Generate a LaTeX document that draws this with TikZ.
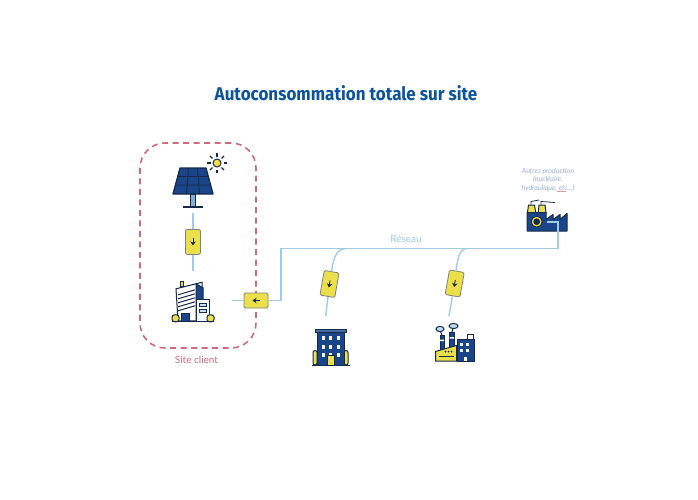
\documentclass[tikz,border=0pt]{standalone}
\usepackage{fontspec}
\setmainfont{Lato}
\newfontfamily\titlefont[FakeStretch=0.92]{Fira Sans}
\usetikzlibrary{arrows.meta, positioning}
\definecolor{navy}{HTML}{1A4689}
\definecolor{ink}{HTML}{16294A}
\definecolor{lemon}{HTML}{ECE04A}
\definecolor{wire}{HTML}{A0CBE6}
\definecolor{rose}{HTML}{CE6A7C}
\definecolor{heading}{HTML}{0B539E}
\tikzstyle{gate} = [rectangle, rounded corners=1.5pt, minimum width=15pt, minimum height=25pt, inner sep=0pt, draw=black!50, line width=0.8pt, fill=lemon]
\tikzstyle{wgate} = [gate, minimum width=24pt, minimum height=15pt]
\tikzstyle{iconbox} = [rectangle, inner sep=0pt, outer sep=0pt]
\tikzstyle{link} = [wire, line width=1.4pt]
\tikzstyle{tip} = [ink, line width=0.9pt, -{Stealth[length=4pt,width=5.5pt]}]
\tikzstyle{line} = [ink, line width=1pt]
\tikzset{
  solar/.pic={
    \draw [line, fill=wire!80!navy] (-3,7) rectangle (2,19);
    \draw [ink, line width=1.3pt] (-10,20) -- (10,20);
    \draw [ink, line width=1.3pt, fill=navy, line join=round] (-13,-19) -- (13,-19) -- (20,7) -- (-20,7) -- cycle;
    \draw [ink, line width=0.9pt] (-4.5,-19) -- (-6.5,7) (4.5,-19) -- (6.5,7) (-15,-10.5) -- (15,-10.5) (-17.5,-2) -- (17.5,-2);
    \foreach \a in {0,45,...,315}
      \draw [line, line width=1.1pt] ([shift={(24,-24)}]\a:6.5) -- ([shift={(24,-24)}]\a:10);
    \draw [line, fill=lemon] (24,-24) circle (4);
  },
  tower/.pic={
    \draw [line, fill=lemon] (-13,-20) rectangle (-10,-15);
    \draw [line, fill=white] (-17,-13) -- (9,-19.5) -- (9,19) -- (-15,19) -- cycle;
    \draw [line, fill=navy] (3,-18) -- (10,-14) -- (10,19) -- (3,19) -- cycle;
    \foreach \y in {-7,-3,1,5,9}
      \draw [line] (-15,\y) -- (2,\y-5);
    \draw [line, fill=navy] (-12,12) rectangle (-4,19.5);
    \draw [line, fill=white!90!wire] (3,-2) rectangle (16,19.5);
    \draw [line, fill=wire!60] (6,2) rectangle (13,5);
    \draw [line, fill=wire!60] (6,8) rectangle (13,11);
    \draw [line, fill=lemon, rounded corners=2.5pt] (-21,20) -- (-21,13) -- (-14,13) -- (-14,20) -- cycle;
    \draw [line, fill=lemon, rounded corners=2.5pt] (14,20) -- (14,13) -- (21,13) -- (21,20) -- cycle;
    \draw [ink, line width=1.2pt] (-21,20) -- (21,20);
  },
  block/.pic={
    \draw [line, fill=lemon, rounded corners=2pt] (-18,17.5) -- (-18,3) -- (-14,3) -- (-14,17.5) -- cycle;
    \draw [line, fill=lemon, rounded corners=2pt] (13,17.5) -- (13,3) -- (17,3) -- (17,17.5) -- cycle;
    \draw [line, fill=navy] (-14,-15.5) rectangle (13,17.5);
    \draw [line, fill=navy!70!wire] (-15.5,-18.5) rectangle (15,-15.5);
    \foreach \x in {-7.7,-0.3,7.3}
      \foreach \y in {-9.8,-0.8,7.5}
        \fill [white!85!wire] (\x-1.6,\y-2.2) rectangle (\x+1.6,\y+2.2);
    \draw [line, fill=lemon] (-3.3,8) rectangle (3,17.5);
    \draw [ink, line width=1.2pt] (-19,18) -- (19,18);
  },
  works/.pic={
    \draw [line, fill=wire!70] (-14.5,-13.5) ellipse (4 and 2.6);
    \draw [line, fill=wire!70] (-1,-16.5) ellipse (4.5 and 2.6);
    \draw [line] (-12.5,-7.5) -- (-14,-11) (-2.7,-10) -- (-1.5,-14);
    \draw [line, fill=navy] (-14.5,-7.5) rectangle (-10.5,9);
    \draw [line, fill=navy] (-5,-10) rectangle (-0.5,6);
    \fill [white] (-14.5,-3) rectangle (-10.5,-1.5) (-5,-5.5) rectangle (-0.5,-4);
    \draw [line, fill=lemon] (-19,9) -- (2,3) -- (2,18.5) -- (-19,18.5) -- cycle;
    \draw [line] (-16,14) -- (-1,14);
    \foreach \x in {-9,-6,-3}
      \fill [ink] (\x,9) circle (1);
    \draw [line, fill=white] (13,-8) rectangle (19,-3.5);
    \draw [line, fill=navy] (3,-3.5) rectangle (19.5,18.5);
    \foreach \x in {7,13}
      \foreach \y in {2,8}
        \fill [white!85!wire] (\x-1.5,\y-1.5) rectangle (\x+1.5,\y+1.5);
    \fill [white] (9,14) rectangle (12,18);
  },
  plantpic/.pic={
    \draw [line, line width=0.8pt] (-16,-10) -- (-16,-13) -- (-8,-14.5) (-6,-10) -- (-6,-13) -- (8,-12);
    \draw [line, fill=lemon] (-18.5,-9.5) -- (-12.5,-9.5) -- (-11.3,-2) -- (-19.5,-2) -- cycle;
    \draw [line, fill=lemon] (-8,-9.5) -- (-2,-9.5) -- (-1,-2) -- (-8.7,-2) -- cycle;
    \draw [line, fill=navy, line join=round] (-20,-2) -- (-1,-2) -- (-1,5) -- (6,0) -- (6,5) -- (13,0) -- (13,5) -- (20,-1) -- (20,16.5) -- (-20,16.5) -- cycle;
    \draw [line, fill=lemon] (-10.3,7.2) circle (5.5);
    \draw [line, fill=ink] (-10.3,7.2) circle (2.8);
  }
}

\begin{document}
\begin{tikzpicture}[x=1pt, y=-1pt]
\useasboundingbox (0,0) rectangle (698,499);

% Nodes
\node (title) at (346,93) {\titlefont\fontsize{18.5}{19}\selectfont\bfseries\color{heading}Autoconsommation totale sur site};

\node (zone) at (198,245.5) [rectangle, rounded corners=25pt, minimum width=116pt, minimum height=205pt, inner sep=0pt, draw=rose, line width=1.6pt, dash pattern=on 6pt off 4.5pt] {};
\node (siteclient) at (196.5,360) [text=rose, font=\fontsize{10}{10}\selectfont] {Site client};

\node (panel) at (193,187) [iconbox, minimum width=42pt, minimum height=52pt] {};
\node (gate1) [gate, below=16pt of panel] {};
\node (building) [iconbox, below=16pt of gate1, minimum width=78pt, minimum height=62pt] {};
\node (gate2) at (256,300.5) [wgate] {};

\node (block1) at (331,347.5) [iconbox, minimum width=38pt, minimum height=37pt] {};
\node (works1) at (454.5,342.5) [iconbox, minimum width=39pt, minimum height=39pt] {};
\node (plant) at (547,214.5) [iconbox, minimum width=40pt, minimum height=33pt] {};

\node (gate3) at (329.5,284) [gate, rotate=-10] {};
\node (gate4) at (454.7,283.5) [gate, rotate=-10] {};

\node (reseau) at (406,239) [text=wire, font=\fontsize{10}{10}\selectfont] {Réseau};
\node (others) at (548,180) [align=center, text=navy!45!white, font=\fontsize{7}{8.2}\selectfont\itshape] {Autres production\\(nucléaire,\\hydraulique, etc...)};

\coordinate (bend1) at (281,300.5);
\coordinate (bend2) at (281,248.7);
\coordinate (bend3) at (558,248.7);
\coordinate (inlet1) at (558,222);
\coordinate (inlet2) at (547,222);
\coordinate (tap1) at (345,248.7);
\coordinate (tap2) at (466,248.7);
\coordinate (drop1) at (325.7,316);
\coordinate (drop2) at (449,316);
\coordinate (squiggle1) at (557,191.5);
\coordinate (squiggle2) at (566,191.5);

% Icons
\pic at (panel) {solar};
\pic at (building) {tower};
\pic at (block1) {block};
\pic at (works1) {works};
\pic at (plant) {plantpic};

% Links
\draw [link] (panel) -- (gate1);
\draw [link] (gate1) -- (building);
\draw [link] (building.east |- gate2) -- (gate2);
\draw [link] (gate2) -- (bend1) -- (bend2) -- (bend3) -- (inlet1) -- (inlet2);
\draw [link] (tap1) .. controls (335,249) and (333,262) .. (gate3);
\draw [link] (gate3) -- (drop1);
\draw [link] (tap2) .. controls (459,249) and (457,262) .. (gate4);
\draw [link] (gate4) -- (drop2);
\draw [rose!70, line width=0.4pt] (squiggle1) -- (squiggle2);

% Arrows
\draw [tip] ([yshift=3.5pt]gate1.center) -- ([yshift=-3.5pt]gate1.center);
\draw [tip] ([xshift=3.5pt]gate2.center) -- ([xshift=-3.5pt]gate2.center);
\draw [tip] ([shift={(0.6pt,3.5pt)}]gate3.center) -- ([shift={(-0.6pt,-3.5pt)}]gate3.center);
\draw [tip] ([shift={(0.6pt,3.5pt)}]gate4.center) -- ([shift={(-0.6pt,-3.5pt)}]gate4.center);

\end{tikzpicture}
\end{document}
